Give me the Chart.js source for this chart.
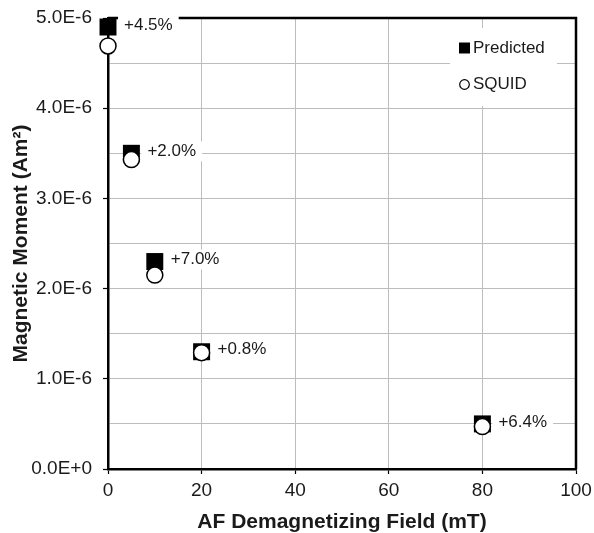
<!DOCTYPE html>
<html>
<head>
<meta charset="utf-8">
<script src="https://cdn.jsdelivr.net/npm/chart.js@4/dist/chart.umd.min.js"></script>
<style>
    body { margin: 0; background: #fff; }
    #wrap { width: 594px; height: 533px; position: relative; }
</style>
</head>
<body>
<div id="wrap"><canvas id="chart"></canvas></div>
<script>
// values
const fieldValues = [0, 5, 10, 20, 80];
const predictedMoments = [4.90e-6, 3.50e-6, 2.30e-6, 1.30e-6, 0.50e-6];
const squidMoments = [4.69e-6, 3.43e-6, 2.15e-6, 1.29e-6, 0.47e-6];
const diffLabels = ['+4.5%', '+2.0%', '+7.0%', '+0.8%', '+6.4%'];
const yTickLabels = ['0.0E+0', '', '1.0E-6', '', '2.0E-6', '', '3.0E-6', '', '4.0E-6', '', '5.0E-6'];
const legendNames = ['Predicted', 'SQUID'];

const FONT = "'Liberation Sans', Arial, sans-serif";
const INK = '#1a1a1a';
const GRID = '#bdbdbd';

const toPoints = ys => fieldValues.map((x, i) => ({ x, y: ys[i] }));

// kill the extra space chart.js reserves for half tick labels
const noScalePadding = s => {
    s.paddingTop = 0;
    s.paddingBottom = 0;
    s.paddingLeft = 0;
    s.paddingRight = 0;
};

// top/right frame, legend box, and the % labels next to the squares
const decorations = {
    id: 'decorations',
    beforeDatasetsDraw(chart) {
        const { ctx, chartArea: a } = chart;
        ctx.save();
        ctx.strokeStyle = '#000';
        ctx.lineWidth = 2.5;
        ctx.beginPath();
        ctx.moveTo(a.left, a.top);
        ctx.lineTo(a.right, a.top);
        ctx.lineTo(a.right, a.bottom);
        ctx.stroke();

        // legend
        ctx.fillStyle = '#fff';
        ctx.fillRect(a.right - 126, a.top + 10, 107, 78);
        const ix = a.right - 111.5;
        const tx = a.right - 103;
        const r1 = a.top + 30, r2 = a.top + 66.5;
        ctx.fillStyle = '#000';
        ctx.fillRect(ix - 5.5, r1 - 5.5, 11, 11);
        ctx.beginPath();
        ctx.arc(ix, r2, 4.8, 0, Math.PI * 2);
        ctx.fillStyle = '#fff';
        ctx.fill();
        ctx.lineWidth = 1.2;
        ctx.strokeStyle = '#000';
        ctx.stroke();
        ctx.fillStyle = INK;
        ctx.font = '17px ' + FONT;
        ctx.textBaseline = 'middle';
        ctx.textAlign = 'left';
        ctx.fillText(legendNames[0], tx, r1);
        ctx.fillText(legendNames[1], tx, r2);
        ctx.restore();
    },
    afterDatasetsDraw(chart) {
        const { ctx } = chart;
        const meta = chart.getDatasetMeta(0);
        ctx.save();
        ctx.font = '17px ' + FONT;
        ctx.textBaseline = 'middle';
        ctx.textAlign = 'left';
        meta.data.forEach((pt, i) => {
            const txt = diffLabels[i];
            const w = ctx.measureText(txt).width;
            const x = pt.x + 16;
            const y = pt.y - 2;
            ctx.fillStyle = '#fff';
            ctx.fillRect(x - 6, y - 10, w + 12, 20);
            ctx.fillStyle = INK;
            ctx.fillText(txt, x, y);
        });
        ctx.restore();
    }
};

new Chart('chart', {
    type: 'scatter',
    data: {
        datasets: [
            {
                label: legendNames[0],
                data: toPoints(predictedMoments),
                pointStyle: 'rect',
                pointRadius: 12,
                pointHoverRadius: 12,
                backgroundColor: '#000',
                borderColor: '#000',
                borderWidth: 0,
                order: 2,
                clip: false
            },
            {
                label: legendNames[1],
                data: toPoints(squidMoments),
                pointStyle: 'circle',
                pointRadius: 8,
                pointHoverRadius: 8,
                backgroundColor: '#fff',
                borderColor: '#000',
                borderWidth: 1.5,
                order: 1,
                clip: false
            }
        ]
    },
    options: {
        responsive: true,
        maintainAspectRatio: false,
        animation: false,
        layout: { padding: { top: 18, right: 18, left: 0, bottom: 0 } },
        plugins: {
            legend: { display: false },
            tooltip: { enabled: false }
        },
        scales: {
            x: {
                type: 'linear',
                min: 0,
                max: 100,
                afterFit: s => { s.height = 64; noScalePadding(s); },
                ticks: {
                    stepSize: 20,
                    padding: 5,
                    color: INK,
                    font: { family: FONT, size: 19 },
                    maxRotation: 0
                },
                grid: { color: GRID, lineWidth: 1, tickColor: '#000', tickLength: 5, tickWidth: 1.2 },
                border: { color: '#000', width: 2.5 },
                title: {
                    display: true,
                    text: 'AF Demagnetizing Field (mT)',
                    color: INK,
                    font: { family: FONT, size: 21, weight: 'bold', lineHeight: 1 },
                    padding: { top: 0, bottom: 0 }
                }
            },
            y: {
                type: 'linear',
                min: 0,
                max: 5e-6,
                afterFit: s => { s.width = 108; noScalePadding(s); },
                ticks: {
                    stepSize: 0.5e-6,
                    autoSkip: false,
                    padding: 11,
                    color: INK,
                    font: { family: FONT, size: 19 },
                    callback: (v, i) => yTickLabels[i]
                },
                grid: {
                    color: GRID,
                    lineWidth: 1,
                    tickLength: 5,
                    tickWidth: 1.2,
                    tickColor: c => (c.index % 2 === 0 ? '#000' : 'rgba(0,0,0,0)')
                },
                border: { color: '#000', width: 2.5 },
                title: {
                    display: true,
                    text: 'Magnetic Moment (Am²)',
                    color: INK,
                    font: { family: FONT, size: 21, weight: 'bold', lineHeight: 1.2 },
                    padding: { top: 9, bottom: 0 }
                }
            }
        }
    },
    plugins: [decorations]
});
</script>
</body>
</html>
